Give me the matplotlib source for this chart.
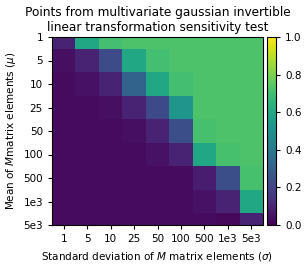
import numpy as np
import matplotlib
matplotlib.use("Agg")
import matplotlib.pyplot as plt

sigma_labels = ["1", "5", "10", "25", "50", "100", "500", "1e3", "5e3"]
mu_labels = ["1", "5", "10", "25", "50", "100", "500", "1e3", "5e3"]

row_mu1 = [0.10, 0.60, 0.70, 0.72, 0.72, 0.72, 0.72, 0.72, 0.72]
row_mu5 = [0.04, 0.10, 0.23, 0.60, 0.70, 0.72, 0.72, 0.72, 0.72]
row_mu10 = [0.03, 0.05, 0.10, 0.32, 0.60, 0.70, 0.72, 0.72, 0.72]
row_mu25 = [0.03, 0.03, 0.04, 0.10, 0.22, 0.52, 0.72, 0.72, 0.72]
row_mu50 = [0.03, 0.03, 0.03, 0.04, 0.10, 0.24, 0.71, 0.72, 0.72]
row_mu100 = [0.03, 0.03, 0.03, 0.03, 0.05, 0.10, 0.60, 0.71, 0.72]
row_mu500 = [0.03, 0.03, 0.03, 0.03, 0.03, 0.03, 0.08, 0.24, 0.71]
row_mu1e3 = [0.03, 0.03, 0.03, 0.03, 0.03, 0.03, 0.05, 0.10, 0.60]
row_mu5e3 = [0.03, 0.03, 0.03, 0.03, 0.03, 0.03, 0.03, 0.02, 0.10]

data = np.array([row_mu1, row_mu5, row_mu10, row_mu25, row_mu50,
                 row_mu100, row_mu500, row_mu1e3, row_mu5e3])

fig = plt.figure(figsize=(3.06, 2.66), dpi=100)
ax = fig.add_axes([52/306, 1 - 225/266, 211/306, 188/266])
cax = fig.add_axes([267/306, 1 - 225/266, 9/306, 188/266])

im = ax.imshow(data, cmap="viridis", vmin=0, vmax=1, aspect="auto",
               interpolation="nearest")
ax.set_ylim(len(mu_labels) - 1, 0)
ax.set_xticks(range(len(sigma_labels)))
ax.set_xticklabels(sigma_labels)
ax.set_yticks(range(len(mu_labels)))
ax.set_yticklabels(mu_labels)
ax.tick_params(labelsize=7.5, length=3)
ax.set_xlabel(r"Standard deviation of $M$ matrix elements ($\sigma$)", fontsize=7.5)
ax.set_ylabel(r"Mean of $M$matrix elements ($\mu$)", fontsize=7.5)
ax.set_title("Points from multivariate gaussian invertible\nlinear transformation sensitivity test",
             fontsize=8.7, pad=4)

cb = fig.colorbar(im, cax=cax, ticks=[0.0, 0.2, 0.4, 0.6, 0.8, 1.0])
cb.ax.tick_params(labelsize=7.5, length=3)

fig.savefig("out.png", dpi=100)
